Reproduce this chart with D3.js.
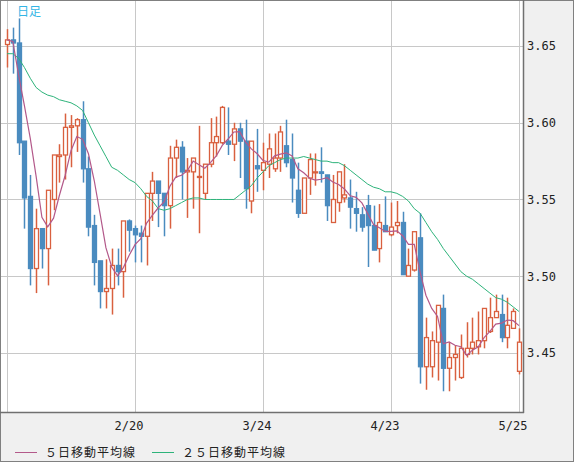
<!DOCTYPE html>
<html><head><meta charset="utf-8">
<script src="https://cdn.jsdelivr.net/npm/d3@7"></script>
<style>body{margin:0;background:#f0f0f0}svg{display:block}</style>
</head><body><svg id="c" width="574" height="462"></svg>
<script>
const opens  = [3.651,3.654,3.652,3.588,3.552,3.505,3.531,3.518,3.550,3.578,3.579,3.597,3.598,3.602,3.570,3.533,3.510,3.490,3.492,3.507,3.503,3.536,3.531,3.528,3.526,3.554,3.562,3.554,3.546,3.577,3.584,3.568,3.568,3.565,3.554,3.573,3.587,3.587,3.588,3.586,3.596,3.588,3.549,3.572,3.569,3.573,3.570,3.577,3.585,3.576,3.556,3.541,3.564,3.568,3.568,3.566,3.535,3.548,3.551,3.551,3.544,3.540,3.546,3.533,3.518,3.533,3.527,3.533,3.535,3.500,3.504,3.525,3.441,3.441,3.457,3.479,3.440,3.447,3.434,3.449,3.453,3.454,3.458,3.464,3.473,3.475,3.460,3.466,3.438];
const closes = [3.654,3.652,3.587,3.551,3.505,3.531,3.518,3.556,3.579,3.579,3.597,3.598,3.602,3.570,3.532,3.509,3.490,3.492,3.507,3.503,3.536,3.530,3.527,3.526,3.554,3.562,3.554,3.546,3.577,3.584,3.568,3.569,3.577,3.565,3.573,3.587,3.591,3.610,3.586,3.596,3.588,3.557,3.588,3.570,3.574,3.583,3.577,3.594,3.574,3.564,3.541,3.564,3.576,3.568,3.567,3.546,3.550,3.568,3.553,3.545,3.541,3.532,3.533,3.517,3.535,3.529,3.532,3.535,3.501,3.507,3.529,3.441,3.460,3.458,3.481,3.440,3.447,3.449,3.453,3.453,3.457,3.458,3.479,3.473,3.477,3.460,3.468,3.477,3.457];
const highs  = [3.661,3.662,3.668,3.588,3.566,3.544,3.531,3.556,3.579,3.586,3.606,3.605,3.603,3.614,3.578,3.540,3.510,3.511,3.518,3.518,3.536,3.537,3.533,3.533,3.554,3.568,3.562,3.554,3.585,3.589,3.588,3.577,3.577,3.598,3.573,3.603,3.604,3.611,3.610,3.600,3.600,3.602,3.588,3.596,3.587,3.593,3.593,3.598,3.602,3.593,3.574,3.564,3.580,3.580,3.584,3.566,3.566,3.568,3.573,3.563,3.555,3.545,3.553,3.546,3.547,3.552,3.548,3.549,3.542,3.518,3.529,3.541,3.473,3.464,3.481,3.488,3.457,3.455,3.462,3.470,3.473,3.477,3.479,3.486,3.488,3.488,3.486,3.479,3.466];
const lows   = [3.636,3.632,3.579,3.531,3.494,3.489,3.505,3.494,3.543,3.561,3.563,3.571,3.581,3.561,3.526,3.494,3.479,3.479,3.475,3.494,3.486,3.516,3.509,3.509,3.507,3.536,3.532,3.526,3.531,3.564,3.550,3.538,3.544,3.528,3.550,3.571,3.578,3.586,3.579,3.575,3.564,3.544,3.541,3.555,3.556,3.564,3.568,3.568,3.571,3.548,3.538,3.541,3.553,3.559,3.561,3.536,3.535,3.542,3.548,3.531,3.529,3.529,3.506,3.517,3.509,3.529,3.526,3.528,3.501,3.500,3.503,3.430,3.426,3.434,3.432,3.425,3.425,3.432,3.433,3.447,3.449,3.449,3.453,3.463,3.473,3.457,3.453,3.466,3.436];
const ma25   = [3.645,3.645,3.642,3.636,3.629,3.623,3.620,3.618,3.617,3.615,3.614,3.613,3.611,3.608,3.600,3.592,3.585,3.578,3.571,3.569,3.566,3.563,3.561,3.557,3.552,3.549,3.544,3.543,3.544,3.546,3.548,3.550,3.551,3.551,3.550,3.550,3.550,3.550,3.550,3.550,3.553,3.556,3.559,3.564,3.568,3.572,3.574,3.576,3.577,3.577,3.577,3.578,3.577,3.576,3.575,3.575,3.574,3.574,3.572,3.569,3.566,3.563,3.560,3.558,3.557,3.555,3.555,3.554,3.552,3.549,3.544,3.541,3.535,3.529,3.524,3.518,3.513,3.508,3.503,3.500,3.498,3.495,3.492,3.489,3.486,3.485,3.483,3.480,3.477];
const xTickIdx = [0,22,44,66,88];
const xTickLabels = ["","2/20","3/24","4/23","5/25"];
const yTicks = [3.45,3.50,3.55,3.60,3.65];
const legendLabels = ["５日移動平均線","２５日移動平均線"];

const ma5 = closes.map((c,i)=>{const s=closes.slice(Math.max(0,i-4),i+1);return d3.mean(s);});
const svg = d3.select("#c");
const W=523,H=412;
const x = d3.scaleLinear().domain([0,88]).range([7,519]);
const y = d3.scaleLinear().domain([3.4115,3.680]).range([H,0]);
const red="#d9603f", blue="#4a8bbf", green="#2db37a", mag="#b3598a";

svg.append("rect").attr("x",0.5).attr("y",0.5).attr("width",573).attr("height",461).attr("fill","#f0f0f0").attr("stroke","#808080");
svg.append("rect").attr("x",1).attr("y",1).attr("width",W-1).attr("height",H-1).attr("fill","#fff");
const g=svg.append("g");
g.selectAll(".hg").data(yTicks).join("line").attr("x1",1).attr("x2",W).attr("y1",d=>Math.round(y(d))+0.5).attr("y2",d=>Math.round(y(d))+0.5).attr("stroke","#c8c8c8");
g.selectAll(".vg").data(xTickIdx).join("line").attr("y1",1).attr("y2",H).attr("x1",d=>Math.round(x(d))+0.5).attr("x2",d=>Math.round(x(d))+0.5).attr("stroke","#c8c8c8");
svg.append("line").attr("x1",W+0.5).attr("x2",W+0.5).attr("y1",0).attr("y2",H+1).attr("stroke","#707070").attr("stroke-width",1.5);
svg.append("line").attr("x1",0).attr("x2",W+1).attr("y1",H+0.5).attr("y2",H+0.5).attr("stroke","#707070").attr("stroke-width",1.5);

const idx=d3.range(opens.length);
const up=i=>closes[i]>=opens[i];
g.selectAll(".wick").data(idx).join("line").attr("x1",i=>Math.round(x(i))+0.5).attr("x2",i=>Math.round(x(i))+0.5)
 .attr("y1",i=>y(highs[i])).attr("y2",i=>y(lows[i])).attr("stroke",i=>up(i)?red:blue).attr("stroke-width",1.5);
g.selectAll(".body").data(idx).join("rect").attr("x",i=>Math.round(x(i))-1.5).attr("width",4)
 .attr("y",i=>y(Math.max(opens[i],closes[i]))).attr("height",i=>Math.max(1,Math.abs(y(opens[i])-y(closes[i]))))
 .attr("fill",i=>up(i)?"#fff":blue).attr("stroke",i=>up(i)?red:blue).attr("stroke-width",1.3);

const line=arr=>d3.line().x((d,i)=>x(i)).y(d=>y(d))(arr);
g.append("path").attr("d",line(ma25)).attr("fill","none").attr("stroke",green).attr("stroke-width",1);
g.append("path").attr("d",line(ma5)).attr("fill","none").attr("stroke",mag).attr("stroke-width",1.2);

svg.append("text").attr("x",17).attr("y",16).text("日足").attr("fill","#33b5e5").attr("font-size",12).attr("font-family","Noto Sans CJK JP");
const yAxis=svg.append("g").attr("transform",`translate(${W},0)`).call(d3.axisRight(y).tickValues(yTicks).tickFormat(d3.format(".2f")).tickSize(0).tickPadding(4));
yAxis.select(".domain").remove();
yAxis.selectAll("text").attr("font-family","DejaVu Sans Mono").attr("font-size",12).attr("fill","#222");
const xAxis=svg.append("g").attr("transform",`translate(0,${H})`).call(d3.axisBottom(x).tickValues(xTickIdx).tickFormat((d,i)=>xTickLabels[i]).tickSize(0).tickPadding(9));
xAxis.select(".domain").remove();
xAxis.selectAll("text").attr("font-family","DejaVu Sans Mono").attr("font-size",12).attr("fill","#222").attr("text-anchor","end").attr("dx",8);

const lg=svg.append("g").attr("font-family","Noto Sans CJK JP").attr("font-size",12).attr("fill","#222");
[[15,mag,legendLabels[0]],[152,green,legendLabels[1]]].forEach(([lx,c,t])=>{
  lg.append("line").attr("x1",lx).attr("x2",lx+22).attr("y1",452.5).attr("y2",452.5).attr("stroke",c);
  lg.append("text").attr("x",lx+30).attr("y",457).text(t).attr("letter-spacing",1);
});
</script></body></html>
